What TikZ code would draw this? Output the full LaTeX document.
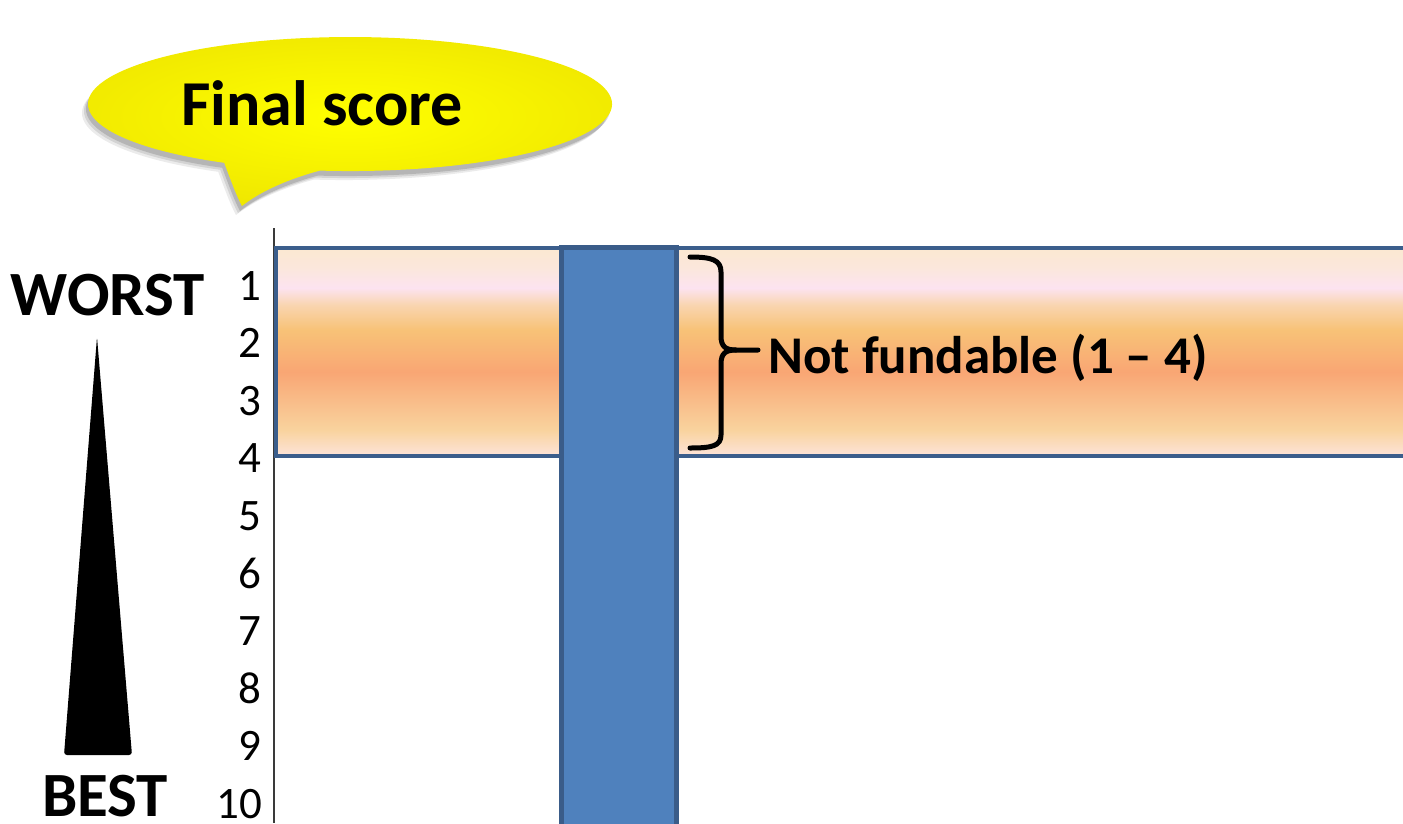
\documentclass[tikz,border=0pt]{standalone}
\usepackage{fontspec}
\setmainfont{Carlito}
\definecolor{bandedge}{HTML}{3B5E8C}
\definecolor{barfill}{HTML}{4F81BD}
\definecolor{baredge}{HTML}{3A5C89}
\definecolor{axisgray}{HTML}{3A3A3A}
\definecolor{bubbleyellow}{HTML}{FFFF00}
\definecolor{bubbleedge}{HTML}{F0E800}
\definecolor{bA}{HTML}{FDE4DA}
\definecolor{bB}{HTML}{F9D39E}
\definecolor{bC}{HTML}{F9A674}
\definecolor{bD}{HTML}{F8C277}
\definecolor{bE}{HTML}{F9D5B0}
\definecolor{bF}{HTML}{FCE3F0}
\definecolor{bG}{HTML}{FBE7DC}
\definecolor{bH}{HTML}{FBE8D1}
% peach-to-salmon band, bottom (0bp) to top (100bp); the path fills 25bp..75bp
\pgfdeclareverticalshading{bandshade}{100bp}{%
  color(0bp)=(bA); color(25bp)=(bA); color(31.25bp)=(bB); color(45.2bp)=(bC);
  color(55.3bp)=(bD); color(61.3bp)=(bE); color(65.4bp)=(bF); color(70.2bp)=(bG);
  color(75bp)=(bH); color(100bp)=(bH)}
% outline of the speech bubble: elliptic body plus tail pointing down-left
\def\bubbleoutline{(224.2,162.8) arc[start angle=118.7, end angle=456.6, x radius=262, y radius=67]
  .. controls (292,178) and (262,190) .. (242,206) .. controls (236,195) and (230,178) .. cycle}
\begin{document}
\begin{tikzpicture}[x=1pt,y=-1pt,
  boldlabel/.style={font=\bfseries\fontsize{63}{74}\selectfont, inner sep=0pt},
  ranknum/.style={font=\fontsize{45}{54}\selectfont, inner sep=0pt, anchor=base east},
  notelabel/.style={font=\bfseries\fontsize{53}{62}\selectfont, inner sep=0pt, anchor=base west},
  bubbletext/.style={font=\bfseries\fontsize{64}{76}\selectfont, inner sep=0pt, anchor=base},
  bracestroke/.style={line width=5pt, line cap=round, line join=round},
]
\useasboundingbox (0,0) rectangle (1403,823);

% speech bubble: soft shadow, then body
\foreach \op/\dx/\dy in {0.08/-6/9, 0.10/-4/7, 0.14/-2/5}{
  \begin{scope}[shift={(\dx,\dy)}]
    \fill[black, opacity=\op] \bubbleoutline;
  \end{scope}
}
\shade[inner color=bubbleyellow, outer color=bubbleedge] \bubbleoutline;
\node[bubbletext] (title) at (322,125) {Final score};

% vertical rank axis
\coordinate (axistop) at (274,228);
\coordinate (axisbot) at (274,823);
\draw[axisgray, line width=1.6pt] (axistop) -- (axisbot);

% shaded band of ranks 1 to 4
\path[shading=bandshade] (276,248) rectangle (1412,456);
\draw[bandedge, line width=4pt] (276,248) rectangle (1412,456);

% blue column
\draw[baredge, fill=barfill, line width=5pt] (561,247) rectangle (676,840);

% rank numbers
\foreach \i in {1,...,10}{
  \node[ranknum] (r\i) at (262,{300+(\i-1)*57.6}) {\i};
}

% worst / best labels and wedge
\node[boldlabel, anchor=base] (worst) at (108,315) {WORST};
\node[boldlabel, anchor=base] (best) at (105,816) {BEST};
\fill[black, rounded corners=3pt] (97,337) -- (132,755) -- (64,755) -- cycle;

% brace over ranks 1 to 4 and its note
\node[notelabel] (note) at (768,373) {Not fundable (1 – 4)};
\coordinate (bracetip) at (758,350);
\draw[bracestroke] (690,257) .. controls (712,257) and (721,260) .. (721,272) -- (721,336)
   .. controls (721,347) and (726,350) .. (736,350) -- (bracetip);
\draw[bracestroke] (736,350) .. controls (726,350) and (721,353) .. (721,364) -- (721,435)
   .. controls (721,446) and (712,448) .. (690,448);
\end{tikzpicture}
\end{document}
